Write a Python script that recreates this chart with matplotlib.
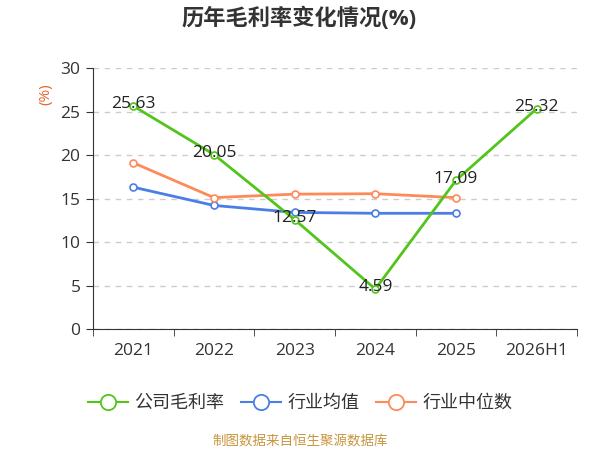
import numpy as np
import matplotlib
matplotlib.use("Agg")
import matplotlib.pyplot as plt
from matplotlib.lines import Line2D

plt.rcParams['font.family'] = ['Open Sans', 'Noto Sans CJK SC', 'DejaVu Sans']

# ---- data ----
years = ["2021", "2022", "2023", "2024", "2025", "2026H1"]
company = [25.63, 20.05, 12.57, 4.59, 17.09, 25.32]
industry_avg = [16.3, 14.2, 13.4, 13.3, 13.3]
industry_median = [19.1, 15.1, 15.5, 15.55, 15.1]

green = "#52c41a"
blue = "#4a7ee6"
orange = "#fd8b5a"

fig = plt.figure(figsize=(6, 4.5), dpi=100)
ax = fig.add_axes([93 / 600, 1 - 329 / 450, (577 - 93) / 600, (329 - 68) / 450])

x = np.arange(len(years))
mk = dict(marker="o", markersize=5, markerfacecolor="white", markeredgewidth=1.2)
ax.plot(x[:len(industry_avg)], industry_avg, color=blue, lw=2, zorder=3, **mk)
ax.plot(x[:len(industry_median)], industry_median, color=orange, lw=2, zorder=3, **mk)
ax.plot(x, company, color=green, lw=2, zorder=4, **mk)

for xi, v in zip(x, company):
    ax.text(xi, v + 0.2, f"{v:.2f}", ha="center", va="center", fontsize=12.5,
            color="#222222", zorder=5)

ax.set_xlim(-0.5, len(years) - 0.5)
ax.set_ylim(0, 30)
ax.set_yticks(np.arange(0, 31, 5))
ax.set_xticks(x)
ax.set_xticklabels(years)
ax.set_xticks(np.arange(-0.5, len(years)), minor=True)
ax.tick_params(axis="x", which="major", length=0, pad=10, labelsize=12.5, labelcolor="#333333")
ax.tick_params(axis="x", which="minor", length=5, color="#333333")
ax.tick_params(axis="y", length=5, pad=4, labelsize=12.5, labelcolor="#333333", color="#333333")

ax.grid(axis="y", linestyle=(0, (4, 4)), color="#cccccc", lw=1)
ax.set_axisbelow(True)
for s in ["top", "right"]:
    ax.spines[s].set_visible(False)
for s in ["left", "bottom"]:
    ax.spines[s].set_color("#333333")

fig.text(46 / 600, 1 - 94 / 450, "(%)", rotation=90, ha="center", va="center",
         fontsize=11, color="#e8622c")

fig.text(299 / 600, 1 - 18 / 450, "历年毛利率变化情况(%)", ha="center", va="center",
         fontsize=16, fontweight="bold", color="#333333")

handles = [
    Line2D([0], [0], color=c, lw=1.5, marker="o", markersize=11,
           markerfacecolor="white", markeredgewidth=1.3)
    for c in (green, blue, orange)
]
fig.legend(handles, ["公司毛利率", "行业均值", "行业中位数"], loc="center",
           bbox_to_anchor=(300 / 600, 1 - 403 / 450), ncol=3, frameon=False,
           fontsize=13, handlelength=2.2, columnspacing=0.95, handletextpad=0.35,
           labelcolor="#333333")

fig.text(0.5, 1 - 441 / 450, "制图数据来自恒生聚源数据库", ha="center", va="center",
         fontsize=9.7, color="#c8963e")

fig.savefig("out.png", dpi=100)
